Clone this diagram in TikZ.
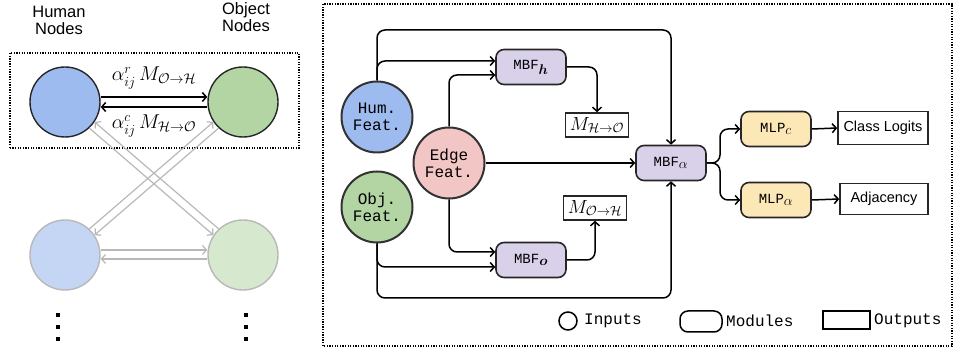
\RequirePackage{fix-cm}
\documentclass[tikz,border=0pt]{standalone}
\usepackage{amsmath}
\usepackage{fontspec}
\setsansfont{Liberation Sans}
\setmonofont{Liberation Mono}
\usetikzlibrary{arrows.meta, calc}

\definecolor{humblue}{HTML}{9EBBF0}
\definecolor{objgreen}{HTML}{B2D5A3}
\definecolor{edgepink}{HTML}{F3C6C6}
\definecolor{modpurple}{HTML}{D9D1E9}
\definecolor{mlpyellow}{HTML}{FCE8B6}
\definecolor{fadeblue}{HTML}{C5D6F5}
\definecolor{fadegreen}{HTML}{D6E8CE}
\definecolor{fadegray}{HTML}{B8B8B8}

\begin{document}
\begin{tikzpicture}[x=1pt, y=1pt,
    gnode/.style={circle, draw=black!85, line width=1.4pt, minimum size=70pt, inner sep=0pt},
    fnode/.style={gnode, draw=fadegray},
    feat/.style={circle, draw=black!80, line width=2pt, minimum size=71pt, inner sep=0pt, align=center, font=\fontsize{16}{17}\selectfont\ttfamily},
    module/.style={draw=black!85, rounded corners=8pt, line width=1.6pt, minimum width=70pt, minimum height=35pt, font=\fontsize{14}{16}\selectfont},
    outbox/.style={draw=black!85, line width=1.6pt, inner sep=1pt, minimum width=63pt, minimum height=24pt, font=\fontsize{19}{20}\selectfont},
    resbox/.style={draw=black!85, line width=1.6pt, minimum width=90pt, minimum height=33pt, font=\fontsize{14.5}{16}\selectfont\sffamily},
    link/.style={line width=1.5pt, rounded corners=8pt, -{Straight Barb[length=4pt,width=9pt]}},
    glink/.style={line width=1.2pt, draw=fadegray, -{Straight Barb[length=4pt,width=9pt]}},
    dotbox/.style={line width=1.3pt, dash pattern=on 1.3pt off 1.3pt},
    leg/.style={anchor=west, inner sep=0pt, font=\fontsize{16}{18}\selectfont\ttfamily},
  ]
  \useasboundingbox (0,0) rectangle (954,350);

  \node[align=center, font=\fontsize{16.5}{17}\selectfont\sffamily] (hlab) at (59,330) {Human\\Nodes};
  \node[align=center, font=\fontsize{16.5}{17}\selectfont\sffamily] (olab) at (246,333) {Object\\Nodes};

  \draw[dotbox] (10,202) rectangle (299,297);

  \node[gnode, fill=humblue] (h1) at (65,248) {};
  \node[gnode, fill=objgreen] (o1) at (243,248) {};
  \node[fnode, fill=fadeblue] (h2) at (65,95) {};
  \node[fnode, fill=fadegreen] (o2) at (243,95) {};

  \draw[glink] (h1.-47) -- (o2.146);
  \draw[glink] (o2.133) -- (h1.-34);
  \draw[glink] (o1.-133) -- (h2.34);
  \draw[glink] (h2.47) -- (o1.-146);
  \draw[glink] ([yshift=5pt]h2.east) -- ([yshift=5pt]o2.west);
  \draw[glink] ([yshift=-4pt]o2.west) -- ([yshift=-4pt]h2.east);

  \draw[link] ([yshift=5pt]h1.east) -- ([yshift=5pt]o1.west);
  \draw[link] ([yshift=-5pt]o1.west) -- ([yshift=-5pt]h1.east);
  \node[font=\fontsize{20}{22}\selectfont] (lr) at (154,272) {$\alpha^r_{ij}\,M_{\mathcal{O}\to\mathcal{H}}$};
  \node[font=\fontsize{20}{22}\selectfont] (lc) at (154,224) {$\alpha^c_{ij}\,M_{\mathcal{H}\to\mathcal{O}}$};

  \foreach \x in {58,246}
    \foreach \y in {11,23,35}
      \fill (\x-2,\y-2) rectangle (\x+2,\y+2);

  \draw[dotbox] (323,4) rectangle (952,346);

  \node[feat, fill=humblue] (hum) at (377,233) {Hum.\\Feat.};
  \node[feat, fill=objgreen] (obj) at (377,143) {Obj.\\Feat.};
  \node[feat, fill=edgepink] (edge) at (449,187) {Edge\\Feat.};

  \node[module, fill=modpurple] (mbfh) at (531,283) {\texttt{MBF}$_{\textstyle\boldsymbol{h}}$};
  \node[module, fill=modpurple] (mbfo) at (531,90) {\texttt{MBF}$_{\textstyle\boldsymbol{o}}$};
  \node[module, fill=modpurple] (mbfa) at (671,187) {\texttt{MBF}$_{\textstyle\alpha}$};
  \node[module, fill=mlpyellow] (mlpc) at (776,221) {\texttt{MLP}$_{\textstyle c}$};
  \node[module, fill=mlpyellow] (mlpa) at (776,150) {\texttt{MLP}$_{\textstyle\alpha}$};

  \node[outbox] (mho) at (597,225) {$M_{\mathcal{H}\to\mathcal{O}}$};
  \node[outbox] (moh) at (595,142) {$M_{\mathcal{O}\to\mathcal{H}}$};
  \node[resbox] (cls) at (883,222) {Class Logits};
  \node[resbox, minimum height=31pt, minimum width=88pt] (adj) at (884,151) {Adjacency};

  \coordinate (top) at (0,320);
  \coordinate (bot) at (0,52);
  \coordinate (split) at (720,187);

  \draw[link] (hum.north) -- (hum.north |- top) -| (mbfa.north);
  \draw[link] (hum.north) |- ([yshift=6pt]mbfh.west);
  \draw[link] (edge.north) |- ([yshift=-8pt]mbfh.west);
  \draw[link] (edge.east) -- (mbfa.west);
  \draw[link] (edge.south) |- ([yshift=8pt]mbfo.west);
  \draw[link] (obj.south) |- ([yshift=-7pt]mbfo.west);
  \draw[link] (obj.south) -- (obj.south |- bot) -| (mbfa.south);
  \draw[link] (mbfh.east) -| (mho.north);
  \draw[link] (mbfo.east) -| (moh.south);
  \draw[link] (mbfa.east) -- (split) |- (mlpc.west);
  \draw[link] (mbfa.east) -- (split) |- (mlpa.west);
  \draw[link] (mlpc.east) -- (cls.west);
  \draw[link] (mlpa.east) -- (adj.west);

  \draw[line width=1.5pt] (568,29) circle (9pt);
  \node[leg] (inl) at (584,29) {Inputs};
  \draw[line width=1.5pt, rounded corners=8pt] (680,18) rectangle (722,39);
  \node[leg] (modl) at (726,29) {Modules};
  \draw[line width=1.5pt] (823,21) rectangle (870,39);
  \node[leg] (outl) at (874,29) {Outputs};
\end{tikzpicture}
\end{document}
